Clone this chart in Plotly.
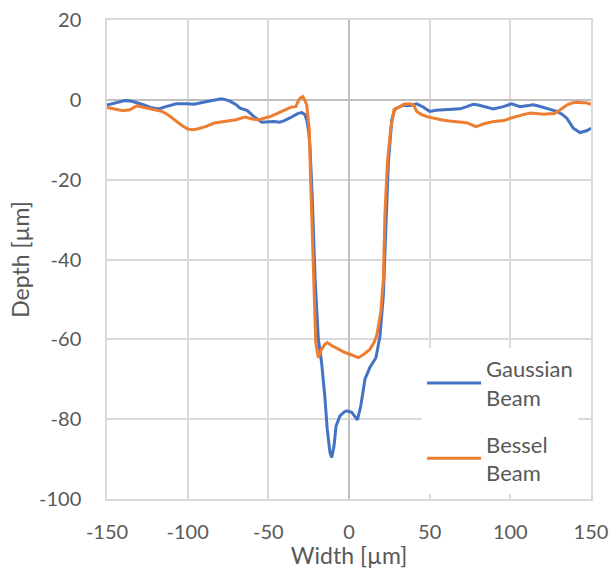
import plotly.graph_objects as go

# Gaussian beam profile
gauss_x = [-150, -145, -139, -135, -131.5, -127, -123, -118, -113.5, -107, -101, -96, -88, -83, -79, -76, -73.5, -70,
           -67.5, -63, -59, -54, -50, -46.5, -43, -40, -37, -34, -31.5, -29.3, -27.5, -26.2, -25, -24.2, -22.8, -21,
           -19, -17, -15, -13.5, -11.8, -10.7, -9.3, -8, -5.6, -3, -1.4, 1.7, 3.5, 5.2, 7.3, 9.9, 13, 16.7, 19.2,
           21.3, 22.8, 24.4, 26.5, 28.5, 31, 33.6, 37.9, 42, 46, 50, 54, 58, 63, 68.8, 73, 77, 80, 83.3, 89.5, 95.7,
           100.9, 106, 110, 114.3, 118, 122.6, 128.8, 132, 135, 139, 143.2, 147.3, 150]
gauss_y = [-1.3, -0.8, -0.2, -0.3, -0.7, -1.3, -1.9, -2.3, -1.7, -1.0, -1.0, -1.1, -0.4, 0.0, 0.25, 0.0, -0.4, -1.2,
           -2.1, -2.7, -4.2, -5.6, -5.4, -5.4, -5.6, -5.2, -4.6, -3.9, -3.4, -3.2, -3.6, -5.0, -8.0, -11.7, -24.2, -45,
           -60, -65.8, -74.2, -82.5, -88.3, -89.6, -86.7, -81.7, -79.2, -78.2, -77.9, -78.3, -79.3, -80.2, -76.7, -70,
           -67, -64.6, -59.2, -49, -32.5, -15.8, -5.0, -2.3, -1.8, -1.4, -1.4, -1.0, -1.8, -2.9, -2.6, -2.5, -2.5,
           -2.25, -1.7, -1.1, -1.3, -1.7, -2.3, -1.7, -1.0, -1.7, -1.5, -1.25, -1.6, -2.1, -2.9, -3.6, -4.6, -7.1,
           -8.2, -7.75, -7.1]

# Bessel beam profile
bessel_x = [-150, -145, -140, -136, -131.5, -127, -123, -119, -116, -112, -108.5, -104, -100, -97, -94, -89, -83.5,
            -79, -75, -70, -64.5, -60, -56, -52, -49, -45, -41.5, -38, -35.5, -33, -31.3, -30.4, -28.7, -27.5, -26.2,
            -24.6, -23.8, -22.5, -21.5, -20.6, -19, -17, -15, -13.5, -11, -8.7, -5, -2.5, 1, 3, 5.8, 9, 13, 15.5,
            17.2, 19.7, 21.3, 22.3, 23.8, 25.8, 27.9, 31.6, 34, 37.9, 40, 42, 45, 48.3, 52, 57, 62, 67.2, 70, 73.4,
            76, 78.6, 81, 83.7, 89.9, 96, 100, 104.4, 108, 112.6, 116, 120.9, 124, 127, 131, 135.3, 138, 141.4, 145,
            147.5, 150]
bessel_y = [-1.9, -2.3, -2.75, -2.5, -1.5, -1.9, -2.3, -2.6, -2.9, -3.8, -5.0, -6.3, -7.3, -7.5, -7.3, -6.7, -5.8,
            -5.5, -5.4, -5.0, -4.3, -4.8, -5.0, -4.6, -4.2, -3.5, -2.75, -2.2, -1.8, -1.7, -0.2, 0.4, 0.8, 0.0, -1.25,
            -7.5, -20, -36.7, -49, -60.8, -64.6, -62.5, -61.3, -60.8, -61.5, -62, -62.8, -63.3, -63.8, -64.2, -64.6,
            -63.8, -62.5, -60.8, -59, -53.3, -45, -28.3, -15.8, -7.5, -2.5, -1.7, -1.1, -1.0, -1.3, -2.9, -3.7, -4.2,
            -4.6, -5.0, -5.3, -5.4, -5.6, -5.8, -6.3, -6.7, -6.4, -6.0, -5.4, -5.2, -4.6, -4.0, -3.7, -3.3, -3.5,
            -3.6, -3.5, -3.5, -2.5, -1.25, -0.8, -0.6, -0.7, -0.8, -1.1]

x_tick_vals = [-150, -100, -50, 0, 50, 100, 150]
x_tick_text = ["-150", "-100", "-50", "0", "50", "100", "150"]
y_tick_vals = [20, 0, -20, -40, -60, -80, -100]
y_tick_text = ["20", "0", "-20", "-40", "-60", "-80", "-100"]

FONT = "Lato"
TXT = "#595959"
GRID = "#d9d9d9"

fig = go.Figure()
fig.add_trace(go.Scatter(x=gauss_x, y=gauss_y, mode="lines", name="Gaussian<br>Beam",
                         legendgroup="g", line=dict(color="#4472C4", width=3)))
fig.add_trace(go.Scatter(x=bessel_x, y=bessel_y, mode="lines", name="Bessel<br>Beam",
                         legendgroup="b", line=dict(color="#ED7D31", width=3)))

fig.update_layout(
    width=613, height=569,
    margin=dict(l=107, r=22, t=20, b=70, autoexpand=False),
    paper_bgcolor="white", plot_bgcolor="white",
    font=dict(family=FONT, color=TXT, size=20),
    xaxis=dict(range=[-150, 150], tickvals=x_tick_vals, ticktext=x_tick_text,
               showgrid=True, gridcolor=GRID, gridwidth=1.5,
               zeroline=True, zerolinecolor="#bfbfbf", zerolinewidth=2,
               showline=True, linecolor=GRID, linewidth=1.5, mirror=True,
               ticks="", ticklabelstandoff=14, tickfont=dict(size=20), automargin=False,
               title=dict(text="Width [µm]", font=dict(size=23), standoff=0)),
    yaxis=dict(range=[-100, 20], tickvals=y_tick_vals, ticktext=y_tick_text,
               showgrid=True, gridcolor=GRID, gridwidth=1.5,
               zeroline=True, zerolinecolor="#bfbfbf", zerolinewidth=2,
               showline=True, linecolor=GRID, linewidth=1.5, mirror=True,
               ticks="", ticklabelstandoff=20, tickfont=dict(size=20), automargin=False,
               title=dict(text="Depth [µm]", font=dict(size=23), standoff=3)),
    legend=dict(x=0.651, y=0.0104, xanchor="left", yanchor="bottom",
                bgcolor="white", borderwidth=0, font=dict(size=22, color=TXT),
                itemwidth=54, tracegroupgap=15),
    showlegend=True,
)

fig.write_html("out.html", config={"displayModeBar": False},
               post_script="document.body.style.margin='0';document.body.style.overflow='hidden';")
